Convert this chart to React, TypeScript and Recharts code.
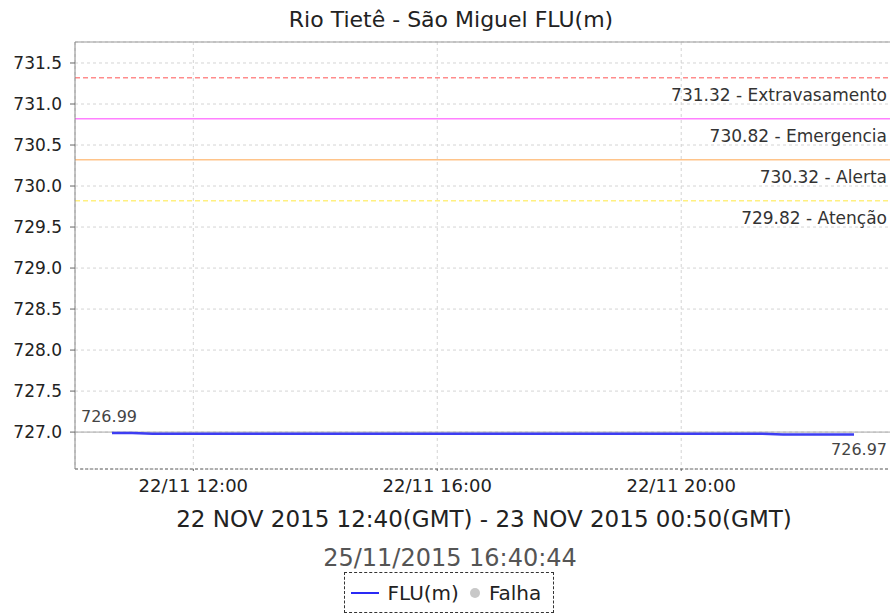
import { LineChart, Line, XAxis, YAxis, CartesianGrid, ReferenceLine, Legend } from 'recharts';

// FLU(m) readings, local time 22/11 (every 20 min, last one at 22:50)
const times = [
  '10:40', '11:00', '11:20', '11:40', '12:00', '12:20', '12:40', '13:00', '13:20', '13:40',
  '14:00', '14:20', '14:40', '15:00', '15:20', '15:40', '16:00', '16:20', '16:40', '17:00',
  '17:20', '17:40', '18:00', '18:20', '18:40', '19:00', '19:20', '19:40', '20:00', '20:20',
  '20:40', '21:00', '21:20', '21:40', '22:00', '22:20', '22:40', '22:50',
];
const flu = [
  726.99, 726.99, 726.98, 726.98, 726.98, 726.98, 726.98, 726.98, 726.98, 726.98,
  726.98, 726.98, 726.98, 726.98, 726.98, 726.98, 726.98, 726.98, 726.98, 726.98,
  726.98, 726.98, 726.98, 726.98, 726.98, 726.98, 726.98, 726.98, 726.98, 726.98,
  726.98, 726.98, 726.98, 726.97, 726.97, 726.97, 726.97, 726.97,
];

const limitValues = [731.32, 730.82, 730.32, 729.82];
const limitNames = ['Extravasamento', 'Emergencia', 'Alerta', 'Atenção'];
const limitColors = ['#ff8c8c', '#ff80ff', '#ffc48a', '#fff080'];
const limitDash = ['5 3', undefined, undefined, '5 3'];

const xTicks = [12, 16, 20];
const xTickLabels = ['22/11 12:00', '22/11 16:00', '22/11 20:00'];
const yTicks = [727, 727.5, 728, 728.5, 729, 729.5, 730, 730.5, 731, 731.5];
const xDomain = [10.06, 23.44];
const yDomain = [726.55, 731.756];
const baseLevel = 727;

const legendNames = ['FLU(m)', 'Falha'];

const toHours = (t: string) => {
  const [h, m] = t.split(':').map(Number);
  return h + m / 60;
};

const data = times.map((t, i) => ({ t: toHours(t), flu: flu[i] }));

const FONT = '"DejaVu Sans", Verdana, sans-serif';

function LimitLabel({ viewBox, text }: any) {
  const { x, y, width } = viewBox;
  return (
    <text x={x + width - 4} y={y + 23} textAnchor="end" fontFamily={FONT} fontSize={17} fill="#333">
      {text}
    </text>
  );
}

function EndLabels({ viewBox }: any) {
  const { x, y, width } = viewBox;
  return (
    <g fontFamily={FONT} fontSize={16} fill="#444">
      <text x={x + 6} y={y - 10}>{flu[0].toFixed(2)}</text>
      <text x={x + width - 4} y={y + 23} textAnchor="end">{flu[flu.length - 1].toFixed(2)}</text>
    </g>
  );
}

function LegendBox() {
  return (
    <div style={{ display: 'flex', justifyContent: 'center', fontFamily: FONT }}>
      <div style={{
        display: 'flex', alignItems: 'center', border: '1px dashed #333', height: 41, width: 210,
        padding: '0 0 0 6px', fontSize: 20, color: '#222', boxSizing: 'border-box',
      }}>
        <span style={{ width: 28, height: 2, background: '#2a2af5', marginRight: 9 }} />
        <span>{legendNames[0]}</span>
        <span style={{ width: 10, height: 10, borderRadius: 5, background: '#c8c8c8', margin: '0 9px 0 11px' }} />
        <span>{legendNames[1]}</span>
      </div>
    </div>
  );
}

export default function App() {
  return (
    <div style={{ position: 'absolute', top: 0, left: 0, width: 890, height: 614, overflow: 'hidden', background: '#fff' }}>
      <div style={{ position: 'absolute', top: 9, left: 0, width: 902, textAlign: 'center', fontFamily: FONT, fontSize: 22, lineHeight: '22px', color: '#222' }}>
        Rio Tietê - São Miguel FLU(m)
      </div>
      <LineChart width={892} height={614} data={data} margin={{ top: 42, right: 1, bottom: 114, left: 0 }}>
        <CartesianGrid stroke="#d4d4d4" strokeDasharray="3 3" />
        <XAxis
          dataKey="t"
          type="number"
          domain={xDomain}
          ticks={xTicks}
          allowDataOverflow
          height={31}
          tickSize={2}
          tickMargin={8}
          tickFormatter={(v: number) => xTickLabels[xTicks.indexOf(v)] ?? ''}
          tick={{ fill: '#222', fontSize: 18, fontFamily: FONT }}
          axisLine={{ stroke: '#666', strokeDasharray: '3 2' }}
          tickLine={{ stroke: '#666' }}
        />
        <YAxis
          type="number"
          domain={yDomain}
          ticks={yTicks}
          allowDataOverflow
          width={75}
          tickSize={5}
          tickMargin={8}
          tickFormatter={(v: number) => v.toFixed(1)}
          tick={{ fill: '#222', fontSize: 17, fontFamily: FONT }}
          axisLine={{ stroke: '#888' }}
          tickLine={{ stroke: '#666' }}
        />
        <ReferenceLine y={yDomain[1]} stroke="#999" ifOverflow="extendDomain" />
        {limitValues.map((v, i) => (
          <ReferenceLine
            key={v}
            y={v}
            stroke={limitColors[i]}
            strokeWidth={1.5}
            strokeDasharray={limitDash[i]}
            label={(p: any) => <LimitLabel {...p} text={`${v.toFixed(2)} - ${limitNames[i]}`} />}
          />
        ))}
        <ReferenceLine y={baseLevel} stroke="#a8a8a8" label={(p: any) => <EndLabels {...p} />} />
        <Line
          type="linear"
          dataKey="flu"
          name={legendNames[0]}
          stroke="#3d3df2"
          strokeWidth={2.5}
          dot={false}
          isAnimationActive={false}
        />
        <Legend
          layout="horizontal"
          verticalAlign="middle"
          align="center"
          wrapperStyle={{ top: 572, left: 0, width: 897 }}
          content={() => <LegendBox />}
        />
      </LineChart>
      <div style={{ position: 'absolute', top: 508, left: 0, width: 968, textAlign: 'center', fontFamily: FONT, fontSize: 23, lineHeight: '23px', color: '#222' }}>
        22 NOV 2015 12:40(GMT) - 23 NOV 2015 00:50(GMT)
      </div>
      <div style={{ position: 'absolute', top: 546, left: 0, width: 900, textAlign: 'center', fontFamily: FONT, fontSize: 24, lineHeight: '24px', color: '#555' }}>
        25/11/2015 16:40:44
      </div>
    </div>
  );
}
